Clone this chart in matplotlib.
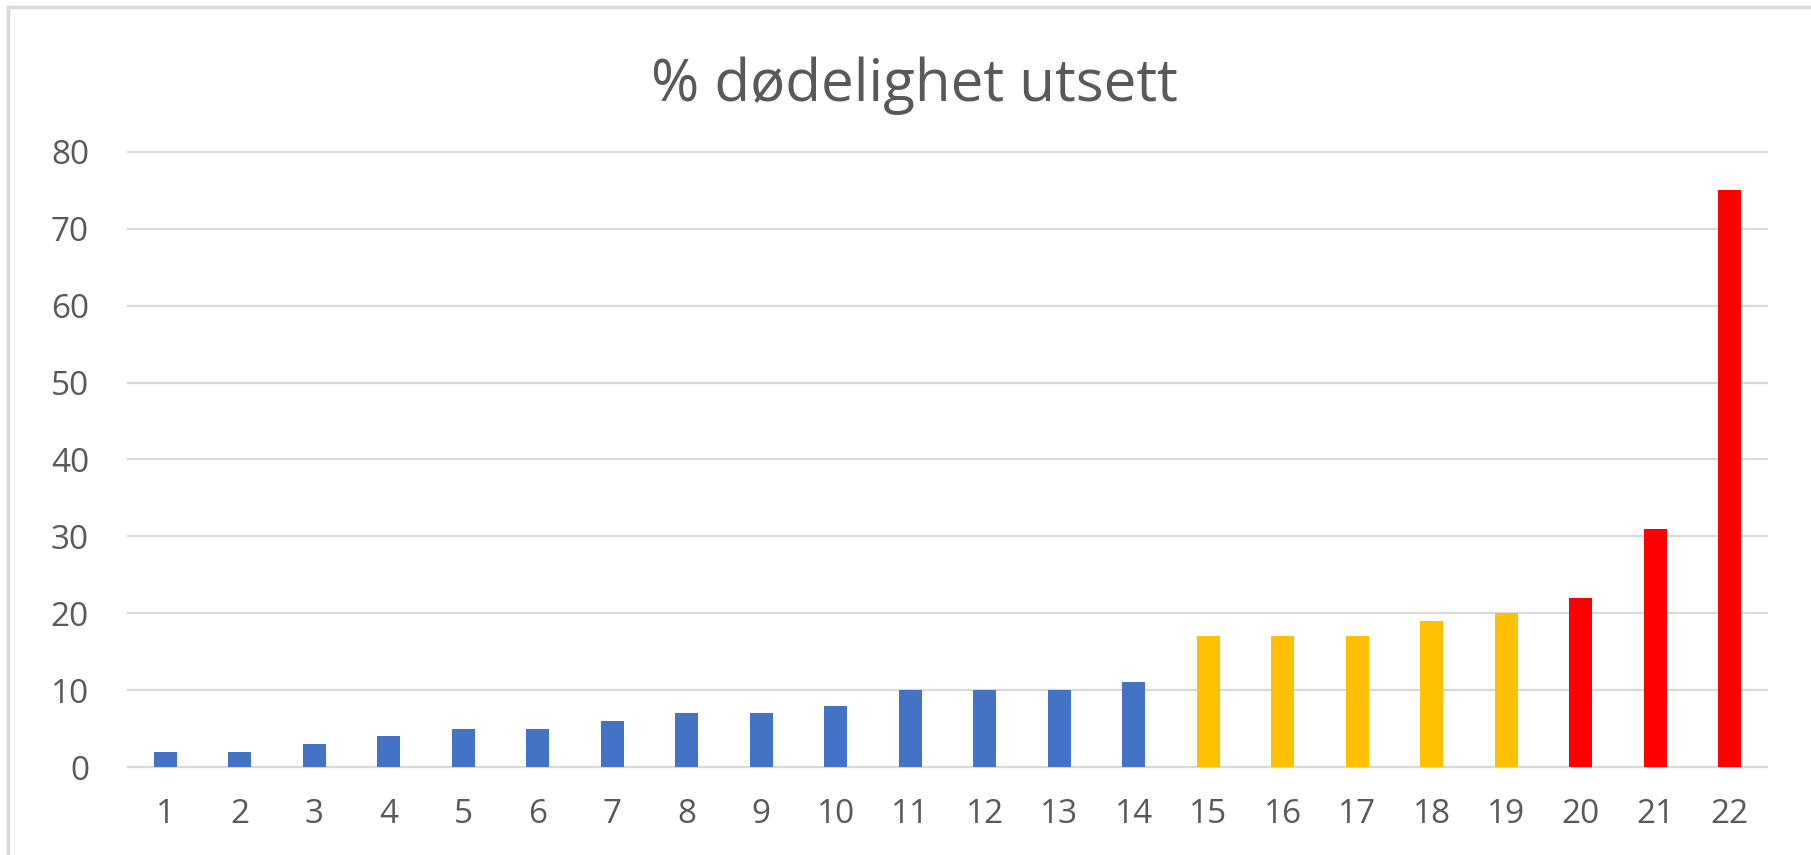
import matplotlib.pyplot as plt
from matplotlib.lines import Line2D

# data
categories = list(range(1, 23))
values = [2, 2, 3, 4, 5, 5, 6, 7, 7, 8, 10, 10, 10, 11, 17, 17, 17, 19, 20, 22, 31, 75]
bar_colors = ['#4472C4'] * 14 + ['#FFC000'] * 5 + ['#FF0000'] * 3
y_ticks = [0, 10, 20, 30, 40, 50, 60, 70, 80]
title = '% dødelighet utsett'

plt.rcParams['font.family'] = ['Open Sans', 'DejaVu Sans']

W, H = 1811, 855
fig = plt.figure(figsize=(W / 100, H / 100), dpi=100)
ax = fig.add_axes([128 / W, 1 - 767 / H, (1767 - 128) / W, (767 - 152) / H])

ax.bar(categories, values, width=0.31, color=bar_colors, zorder=3)
ax.set_xlim(0.5, 22.5)
ax.set_ylim(0, 80)
ax.set_yticks(y_ticks)
ax.set_xticks(categories)

# gridlines
for y in y_ticks:
    ax.axhline(y, color='#d9d9d9', lw=1.6, zorder=1, clip_on=False)

for s in ax.spines.values():
    s.set_visible(False)
ax.tick_params(length=0, labelsize=24, labelcolor='#595959')
ax.tick_params(axis='y', pad=28)
ax.tick_params(axis='x', pad=22)

fig.text(914 / W, 1 - 101 / H, title, ha='center', va='baseline',
         fontsize=42, color='#595959')

# screenshot frame
fig.add_artist(Line2D([8 / W, 8 / W], [0, 1 - 7 / H], color='#d9d9d9', lw=2.5))
fig.add_artist(Line2D([8 / W, 1], [1 - 7 / H, 1 - 7 / H], color='#d9d9d9', lw=2.5))

fig.savefig('out.png', dpi=100)
